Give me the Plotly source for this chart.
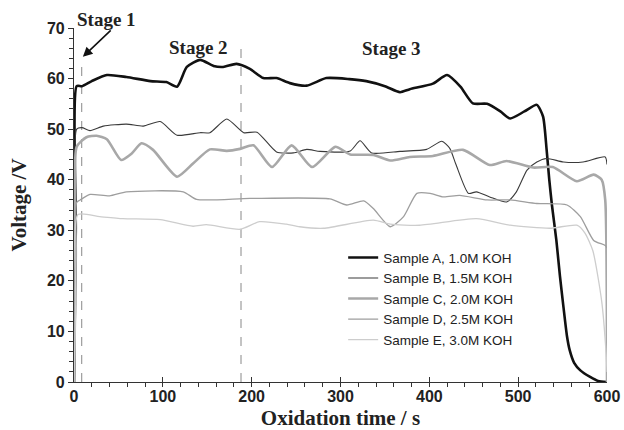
import plotly.graph_objects as go

# ---- data ----
A_t = [0, 2, 3, 9, 20, 37, 59, 86, 104, 116, 127, 142, 157, 168, 183, 198, 213, 228, 243, 262, 284, 310, 329, 350, 367, 378, 404, 420, 435, 449, 465, 480, 491, 507, 521, 528, 532, 535, 538, 543, 547, 551, 555, 558, 563, 570, 581, 590, 600]
A_v = [0, 30, 58.5, 58.5, 59.5, 60.7, 60.3, 59.5, 59.3, 58.4, 62.3, 63.7, 62.5, 62.3, 62.9, 61.9, 60.1, 60.1, 59.1, 58.6, 60.1, 59.9, 59.5, 58.5, 57.3, 57.9, 59.0, 60.7, 58.4, 55.1, 55.0, 53.5, 52.1, 53.5, 54.8, 52.5, 46, 40, 35, 28, 21, 14.8, 9, 6.3, 3.8, 2.3, 1.0, 0.2, 0]

B_t = [0, 2, 3, 9, 18, 33, 59, 78, 97, 116, 142, 153, 172, 191, 206, 228, 247, 262, 277, 311, 322, 335, 367, 397, 414, 423, 430, 444, 453, 468, 487, 498, 510, 521, 532, 551, 573, 598, 600]
B_v = [0, 25, 50, 50.3, 49.7, 50.6, 51, 50.6, 51.5, 48.8, 49.3, 49.3, 52, 49.3, 49.4, 45.5, 45.3, 46, 45.6, 45.7, 47.7, 45.3, 45.6, 46, 47.6, 46.2, 43, 37.3, 37.6, 36.6, 35.6, 37.6, 41.9, 43.5, 44.2, 43.5, 43.5, 44.5, 43]

C_t = [0, 2, 3, 14, 25.5, 37, 53, 65, 76, 89, 116, 134, 153, 172, 187, 202, 223, 245, 268, 294, 311, 337, 356, 378, 404, 438, 468, 487, 517, 539, 566, 585, 594, 598, 600]
C_v = [0, 25, 46.5, 48.4, 48.7, 48, 43.9, 45.2, 47.2, 45.9, 40.6, 43.2, 46, 45.7, 46.1, 46.8, 42.5, 46.8, 42.5, 46.5, 45, 44.9, 43.8, 44.5, 44.7, 45.9, 42.9, 43.7, 42.4, 42.5, 39.7, 41, 40, 36, 0]

D_t = [0, 2, 3, 7, 18, 40, 59, 123, 138, 198, 288, 307, 326, 337, 356, 371, 386, 401, 416, 434, 465, 491, 521, 555, 570, 585, 598, 600]
D_v = [0, 18, 35.5, 36, 37.1, 36.8, 37.6, 37.6, 36.1, 36.3, 36.2, 35, 35.8, 34.3, 30.7, 32.7, 37.3, 37.3, 36.6, 36.9, 36, 36, 35.3, 35, 32.7, 28, 27, 26.5]

E_t = [0, 2, 4.5, 29, 55, 97, 134, 149, 187, 209, 239, 254, 281, 337, 356, 389, 453, 491, 536, 566, 575, 584, 594, 599, 600]
E_v = [0, 16, 33.1, 32.7, 32.3, 32.1, 30.8, 31.1, 30.2, 31.7, 31.2, 30.7, 30.4, 32, 31.2, 31, 32.3, 31, 30.4, 31, 29.5, 26, 16, 5.7, 2]

names = ["Sample A, 1.0M KOH", "Sample B, 1.5M KOH", "Sample C, 2.0M KOH",
         "Sample D, 2.5M KOH", "Sample E, 3.0M KOH"]
series = [(A_t, A_v), (B_t, B_v), (C_t, C_v), (D_t, D_v), (E_t, E_v)]
colors = ["#111111", "#3a3a3a", "#a8a8a8", "#9e9e9e", "#cdcdcd"]
widths = [2.6, 1.1, 2.6, 1.3, 1.3]

stage_x = [8.7, 188]
stage_top = [64, 66.5]

fig = go.Figure()
for (t, v), n, c, w in zip(series, names, colors, widths):
    fig.add_trace(go.Scatter(x=t, y=v, mode="lines", name=n,
                             line=dict(color=c, width=w, shape="spline", smoothing=0.6)))

for sx, st in zip(stage_x, stage_top):
    fig.add_shape(type="line", x0=sx, x1=sx, y0=0, y1=st, xref="x", yref="y",
                  line=dict(color="#888888", width=1, dash="dash"), layer="below")

sfont = dict(family="Liberation Serif", size=19, color="#222222")
fig.add_annotation(x=37, y=1.023, xref="x", yref="paper", yanchor="middle",
                   text="<b>Stage 1</b>", showarrow=False, font=sfont)
fig.add_annotation(x=140, y=66.2, text="<b>Stage 2</b>", showarrow=False, font=sfont)
fig.add_annotation(x=357, y=65.9, text="<b>Stage 3</b>", showarrow=False, font=sfont)
fig.add_annotation(x=10, y=64.3, ax=43, ay=69.8, axref="x", ayref="y",
                   text="", showarrow=True, arrowhead=2, arrowsize=1.2,
                   arrowwidth=1.6, arrowcolor="#111111", standoff=0, startstandoff=0)

fig.update_layout(
    width=624, height=430,
    margin=dict(l=74, r=17, t=28, b=48),
    paper_bgcolor="white", plot_bgcolor="white",
    showlegend=True,
    legend=dict(x=0.505, y=0.395, xanchor="left", yanchor="top",
                bgcolor="rgba(0,0,0,0)", itemwidth=30,
                font=dict(family="Liberation Sans", size=13.5, color="#222222"),
                tracegroupgap=0),
    font=dict(family="Liberation Sans", color="#222222"),
)
fig.update_xaxes(range=[0, 600], tickvals=[0, 100, 200, 300, 400, 500, 600],
                 automargin=False,
                 showgrid=False, zeroline=False, showline=True, linecolor="#333333", linewidth=1.2,
                 ticks="inside", ticklen=5, tickcolor="#333333",
                 minor=dict(dtick=20, ticks="outside", ticklen=4, tickcolor="#333333"),
                 tickfont=dict(family="Liberation Sans", size=16, color="#222222", weight="bold"),
                 title=dict(text="<b>Oxidation time / s</b>", standoff=6,
                            font=dict(family="Liberation Serif", size=21, color="#222222")))
fig.update_yaxes(range=[0, 70], dtick=10,
                 automargin=False,
                 showgrid=False, zeroline=False, showline=True, linecolor="#333333", linewidth=1.2,
                 ticks="outside", ticklen=5, tickcolor="#333333",
                 minor=dict(dtick=2, ticks="outside", ticklen=4, tickcolor="#333333"),
                 tickfont=dict(family="Liberation Sans", size=16, color="#222222", weight="bold"),
                 title=dict(text="<b>Voltage /V</b>", standoff=14,
                            font=dict(family="Liberation Serif", size=21, color="#222222")))

fig.write_html("out.html", config={"displayModeBar": False},
               post_script="document.body.style.margin='0';document.body.style.overflow='hidden';")
